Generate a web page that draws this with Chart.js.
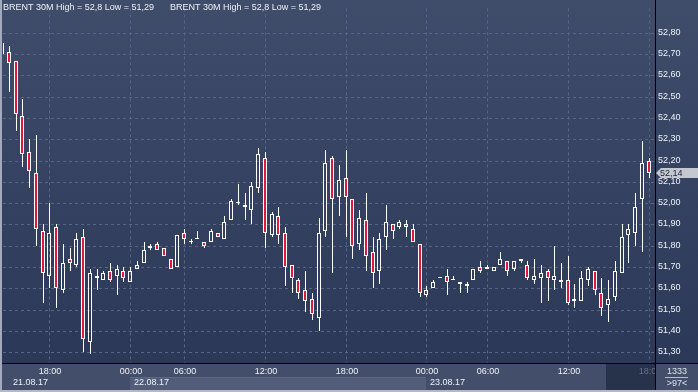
<!DOCTYPE html>
<html>
<head>
<meta charset="utf-8">
<title>BRENT 30M</title>
<script src="https://cdn.jsdelivr.net/npm/chart.js@4/dist/chart.umd.min.js"></script>
<style>
  html, body { margin: 0; padding: 0; background: #2c3956; }
  canvas { display: block; }
</style>
</head>
<body>
<canvas id="grafico" width="698" height="392"></canvas>
<script>
// velas de 30 minutos, 21.08.17 14:30 -> 23.08.17 18:00 (97 barras)
const abre = [52.75, 52.71, 52.67, 52.41, 52.24, 52.14, 51.87, 51.66, 51.89, 51.59,
  51.74, 51.71, 51.84, 51.35, 51.66, 51.64, 51.68, 51.66, 51.68, 51.63,
  51.69, 51.72, 51.79, 51.81, 51.79, 51.74, 51.70, 51.86, 51.82, 51.83,
  51.82, 51.82, 51.86, 51.83, 51.92, 52.00, 51.98, 51.97, 52.07, 52.21,
  51.85, 51.94, 51.86, 51.71, 51.64, 51.59, 51.55, 51.46, 51.87, 52.21,
  52.03, 52.12, 52.02, 51.81, 51.92, 51.77, 51.68, 51.84, 51.90, 51.89,
  51.90, 51.88, 51.81, 51.57, 51.60, 51.65, 51.66, 51.64, 51.63, 51.61,
  51.64, 51.70, 51.69, 51.68, 51.71, 51.73, 51.69, 51.74, 51.71, 51.64,
  51.65, 51.68, 51.64, 51.64, 51.64, 51.54, 51.54, 51.64, 51.68, 51.58,
  51.52, 51.56, 51.67, 51.85, 51.86, 52.02, 52.20];
const maximo = [52.76, 52.74, 52.67, 52.49, 52.30, 52.32, 51.90, 52.00, 51.90, 51.81,
  51.79, 51.86, 51.88, 51.69, 51.69, 51.68, 51.72, 51.71, 51.70, 51.70,
  51.73, 51.82, 51.81, 51.82, 51.79, 51.74, 51.85, 51.88, 51.83, 51.87,
  51.82, 51.88, 51.86, 51.94, 52.02, 52.09, 52.05, 52.10, 52.26, 52.24,
  51.96, 51.98, 51.89, 51.71, 51.65, 51.68, 51.58, 51.93, 52.25, 52.22,
  52.18, 52.25, 52.02, 51.97, 52.05, 51.84, 51.86, 51.99, 51.90, 51.92,
  51.92, 51.90, 51.81, 51.61, 51.64, 51.65, 51.69, 51.66, 51.63, 51.63,
  51.69, 51.73, 51.71, 51.70, 51.77, 51.73, 51.73, 51.74, 51.73, 51.74,
  51.71, 51.69, 51.80, 51.72, 51.75, 51.62, 51.68, 51.70, 51.68, 51.65,
  51.64, 51.73, 51.90, 51.90, 52.05, 52.29, 52.21];
const minimo = [52.69, 52.52, 52.34, 52.17, 52.07, 51.80, 51.53, 51.60, 51.51, 51.58,
  51.68, 51.70, 51.30, 51.29, 51.59, 51.64, 51.63, 51.57, 51.63, 51.63,
  51.69, 51.72, 51.78, 51.78, 51.75, 51.69, 51.70, 51.81, 51.81, 51.83,
  51.79, 51.82, 51.84, 51.83, 51.92, 51.99, 51.92, 51.90, 52.05, 51.79,
  51.84, 51.81, 51.61, 51.58, 51.55, 51.49, 51.45, 51.40, 51.84, 51.67,
  51.94, 51.84, 51.74, 51.78, 51.68, 51.60, 51.62, 51.78, 51.83, 51.88,
  51.84, 51.82, 51.56, 51.56, 51.60, 51.65, 51.57, 51.64, 51.58, 51.58,
  51.64, 51.67, 51.69, 51.68, 51.71, 51.66, 51.68, 51.72, 51.64, 51.62,
  51.53, 51.54, 51.59, 51.60, 51.52, 51.51, 51.54, 51.61, 51.57, 51.47,
  51.44, 51.54, 51.67, 51.72, 51.80, 51.77, 52.12];
const cierre = [52.70, 52.66, 52.42, 52.23, 52.15, 51.88, 51.67, 51.86, 51.60, 51.72,
  51.72, 51.83, 51.36, 51.67, 51.65, 51.67, 51.64, 51.69, 51.65, 51.68,
  51.71, 51.78, 51.80, 51.78, 51.75, 51.69, 51.85, 51.83, 51.82, 51.83,
  51.80, 51.87, 51.84, 51.91, 52.01, 52.00, 51.99, 52.08, 52.23, 51.86,
  51.95, 51.85, 51.70, 51.65, 51.58, 51.54, 51.48, 51.86, 52.19, 52.02,
  52.11, 52.03, 51.80, 51.93, 51.75, 51.67, 51.83, 51.91, 51.87, 51.91,
  51.89, 51.82, 51.58, 51.59, 51.63, 51.65, 51.63, 51.64, 51.62, 51.62,
  51.69, 51.68, 51.70, 51.70, 51.74, 51.68, 51.73, 51.73, 51.65, 51.66,
  51.67, 51.65, 51.66, 51.63, 51.53, 51.55, 51.65, 51.69, 51.59, 51.51,
  51.55, 51.68, 51.84, 51.88, 51.98, 52.19, 52.14];

// marcas del eje de tiempo (indice de barra) y sus textos
const ticksHora = [7, 19, 27, 39, 51, 63, 72, 84, 96];
const etiquetasHora = ["18:00", "00:00", "06:00", "12:00", "18:00", "00:00", "06:00", "12:00", "18:00"];
const ticksDia = [1, 19, 63];
const etiquetasDia = ["21.08.17", "22.08.17", "23.08.17"];
const ticksPrecio = [51.3, 51.4, 51.5, 51.6, 51.7, 51.8, 51.9, 52.0, 52.1, 52.2, 52.3, 52.4, 52.5, 52.6, 52.7, 52.8];

const titulo = "BRENT 30M High = 52,8 Low = 51,29";
const contadorBarras = "1333";
const barrasVisibles = ">97<";

const rojo = "#e2173e";
const blanco = "#ffffff";
const transparente = "rgba(0,0,0,0)";
const colorRejilla = "#56668a";
const colorTexto = "#eef2f8";

// rango visible
const xMin = 0.108, xMax = 96.964;
const yMin = 51.2495, yMax = 52.9147;

const cuerpos = abre.map((o, i) => ({ x: i, y: [o, cierre[i]] }));
const mechaAlta = abre.map((o, i) => ({ x: i, y: [Math.max(o, cierre[i]), maximo[i]] }));
const mechaBaja = abre.map((o, i) => ({ x: i, y: [minimo[i], Math.min(o, cierre[i])] }));
const coloresCuerpo = abre.map((o, i) => cierre[i] < o ? rojo : transparente);

Chart.defaults.font.family = "'Liberation Sans', Arial, sans-serif";
Chart.defaults.font.size = 9;
Chart.defaults.color = colorTexto;

const fmtPrecio = v => v.toFixed(2).replace(".", ",");

// fondo, bandas, lineas negras, etiqueta de precio, titulo
const marco = {
  id: "marco",
  beforeDraw(chart) {
    const { ctx, chartArea } = chart;
    const W = chart.width, H = chart.height;
    const abajo = chartArea.bottom;
    ctx.save();
    ctx.fillStyle = "#434f6a";
    ctx.fillRect(0, 0, W, H);
    const g = ctx.createLinearGradient(0, 0, 0, abajo);
    g.addColorStop(0, "#3f4c6a");
    g.addColorStop(1, "#2b3857");
    ctx.fillStyle = g;
    ctx.fillRect(0, 0, W, abajo);

    // franja del 22.08
    const sx = chart.scales.x;
    const a = sx.getPixelForValue(ticksDia[1]);
    const b = sx.getPixelForValue(ticksDia[2]);
    ctx.fillStyle = "#525e79";
    ctx.fillRect(a, abajo + 14, b - a, 13);
    ctx.fillStyle = "#5e6a84";
    ctx.fillRect(a, abajo + 14, b - a, 1);

    // zona oscura de la hora actual
    ctx.fillStyle = "#27324b";
    ctx.fillRect(606, abajo + 1, chartArea.right - 606, 26);
    ctx.restore();
  },
  afterDraw(chart) {
    const { ctx, chartArea } = chart;
    const W = chart.width, H = chart.height;
    const der = chartArea.right, abajo = chartArea.bottom;
    ctx.save();

    // caja abajo a la derecha
    ctx.fillStyle = "#434f6a";
    ctx.fillRect(der + 1, abajo + 1, W - der - 1, H - abajo - 1);
    ctx.fillStyle = "#dde4ee";
    ctx.font = "9px 'Liberation Sans', Arial, sans-serif";
    ctx.textAlign = "center";
    ctx.textBaseline = "middle";
    ctx.fillText(contadorBarras, 677, abajo + 8.5);
    ctx.fillText(barrasVisibles, 677, abajo + 21);
    ctx.fillStyle = "#b8c0cc";
    ctx.fillRect(665, abajo + 14, 23, 1);

    // lineas negras
    ctx.fillStyle = "#000000";
    ctx.fillRect(0, abajo, W, 1);
    ctx.fillRect(der, 0, 1, H - 2);

    // bordes claros
    ctx.fillStyle = "#a2abbd";
    ctx.fillRect(0, 0, 2, H);
    ctx.fillStyle = "#b4b9c2";
    ctx.fillRect(0, H - 2, W, 2);

    // precio actual
    const ult = cierre[cierre.length - 1];
    const yc = chart.scales.y.getPixelForValue(ult);
    ctx.beginPath();
    ctx.moveTo(der + 1, yc);
    ctx.lineTo(der + 6, yc - 5);
    ctx.lineTo(W, yc - 5);
    ctx.lineTo(W, yc + 5);
    ctx.lineTo(der + 6, yc + 5);
    ctx.closePath();
    ctx.fillStyle = "#c3c8d1";
    ctx.fill();
    ctx.fillStyle = "#1b2338";
    ctx.textAlign = "left";
    ctx.fillText(fmtPrecio(ult), der + 5, yc + 0.5);

    // titulo (dos veces, como en el terminal)
    ctx.fillStyle = colorTexto;
    ctx.fillText(titulo, 3, 8);
    ctx.fillText(titulo, 170, 8);
    ctx.restore();
  }
};

new Chart(document.getElementById("grafico"), {
  type: "bar",
  data: {
    datasets: [
      {
        label: "cuerpo",
        data: cuerpos,
        backgroundColor: coloresCuerpo,
        borderColor: blanco,
        borderWidth: 1,
        borderSkipped: false,
        barThickness: 4,
        minBarLength: 1,
        grouped: false,
        inflateAmount: 0
      },
      {
        label: "mecha alta",
        data: mechaAlta,
        backgroundColor: transparente,
        borderColor: blanco,
        borderWidth: { top: 0, bottom: 0, left: 0, right: 1 },
        borderSkipped: false,
        barThickness: 2,
        grouped: false,
        inflateAmount: 0
      },
      {
        label: "mecha baja",
        data: mechaBaja,
        backgroundColor: transparente,
        borderColor: blanco,
        borderWidth: { top: 0, bottom: 0, left: 0, right: 1 },
        borderSkipped: false,
        barThickness: 2,
        grouped: false,
        inflateAmount: 0
      }
    ]
  },
  options: {
    responsive: false,
    animation: false,
    events: [],
    layout: { padding: { left: 3, right: 0, top: 0, bottom: 2 } },
    plugins: { legend: { display: false }, tooltip: { enabled: false } },
    scales: {
      x: {
        type: "linear",
        position: "bottom",
        min: xMin,
        max: xMax,
        offset: false,
        alignToPixels: true,
        grid: { color: colorRejilla, offset: false, drawTicks: false },
        border: { display: false, dash: [3, 3] },
        afterBuildTicks: s => { s.ticks = ticksHora.map(v => ({ value: v })); },
        afterFit: s => { s.height = 11; },
        ticks: {
          autoSkip: false,
          maxRotation: 0,
          padding: 3,
          labelOffset: 1,
          color: c => c.index === ticksHora.length - 1 ? "#66718b" : colorTexto,
          callback: (v, i) => etiquetasHora[i]
        }
      },
      x2: {
        type: "linear",
        position: "bottom",
        weight: 1,
        min: xMin,
        max: xMax,
        offset: false,
        alignToPixels: true,
        grid: { display: false, drawTicks: false },
        border: { display: false },
        afterBuildTicks: s => { s.ticks = ticksDia.map(v => ({ value: v })); },
        afterFit: s => { s.height = 16; },
        ticks: {
          autoSkip: false,
          maxRotation: 0,
          align: "start",
          labelOffset: 4,
          padding: 3,
          callback: (v, i) => etiquetasDia[i]
        }
      },
      y: {
        type: "linear",
        position: "right",
        min: yMin,
        max: yMax,
        alignToPixels: true,
        grid: { color: colorRejilla, drawTicks: false },
        border: { display: false, dash: [3, 3] },
        afterBuildTicks: s => { s.ticks = ticksPrecio.map(v => ({ value: v })); },
        afterFit: s => { s.width = 43; },
        ticks: { autoSkip: false, padding: 3, callback: v => fmtPrecio(v) }
      }
    }
  },
  plugins: [marco]
});
</script>
</body>
</html>
